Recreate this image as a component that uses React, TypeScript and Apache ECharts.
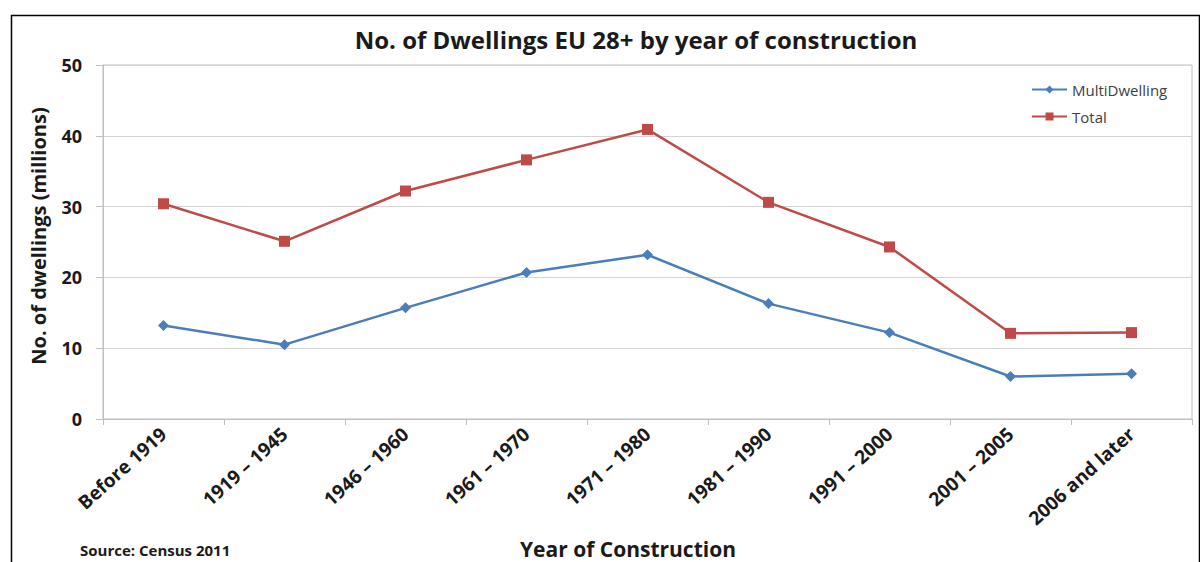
import React, { useEffect, useRef } from "react";
import * as echarts from "echarts";

const categories = [
  "Before 1919",
  "1919 – 1945",
  "1946 – 1960",
  "1961 – 1970",
  "1971 – 1980",
  "1981 – 1990",
  "1991 – 2000",
  "2001 – 2005",
  "2006 and later",
];
const multiDwelling = [13.2, 10.5, 15.7, 20.7, 23.2, 16.3, 12.2, 6.0, 6.4];
const total = [30.4, 25.1, 32.2, 36.6, 40.9, 30.6, 24.3, 12.1, 12.2];
const yTicks = { min: 0, max: 50, interval: 10 };

const FONT = "'Open Sans', Lato, sans-serif";

export default function App() {
  const ref = useRef<HTMLDivElement>(null);
  useEffect(() => {
    document.body.style.margin = "0";
    const chart = echarts.init(ref.current!, null, { renderer: "svg" });
    chart.setOption({
      animation: false,
      backgroundColor: "#ffffff",
      textStyle: { fontFamily: FONT },
      grid: {
        left: 103,
        right: 8,
        top: 65,
        bottom: 143,
        show: true,
        borderColor: "#bfbfbf",
        borderWidth: 1,
      },
      legend: {
        data: ["MultiDwelling", "Total"],
        orient: "vertical",
        left: 1026,
        top: 77,
        itemGap: 12,
        itemWidth: 35,
        itemHeight: 10,
        textStyle: { fontSize: 15, color: "#404040", fontFamily: FONT },
      },
      xAxis: {
        type: "category",
        data: categories,
        boundaryGap: true,
        axisLine: { show: true, lineStyle: { color: "#bfbfbf", width: 1 } },
        axisTick: { show: true, length: 6, lineStyle: { color: "#bfbfbf" } },
        axisLabel: {
          rotate: 42,
          interval: 0,
          fontSize: 19,
          fontWeight: "bold",
          color: "#1a1a1a",
          margin: 12,
          fontFamily: FONT,
        },
      },
      yAxis: {
        type: "value",
        min: yTicks.min,
        max: yTicks.max,
        interval: yTicks.interval,
        axisLine: { show: true, lineStyle: { color: "#bfbfbf", width: 1 } },
        axisTick: { show: true, length: 7, lineStyle: { color: "#bfbfbf" } },
        axisLabel: {
          fontSize: 18,
          fontWeight: "bold",
          color: "#1a1a1a",
          margin: 21,
          fontFamily: FONT,
        },
        splitLine: { lineStyle: { color: "#d4d4d4", width: 1 } },
      },
      series: [
        {
          name: "MultiDwelling",
          type: "line",
          data: multiDwelling,
          symbol: "diamond",
          symbolSize: 11,
          itemStyle: { color: "#4a7ebb" },
          lineStyle: { color: "#4a7ebb", width: 2.5 },
        },
        {
          name: "Total",
          type: "line",
          data: total,
          symbol: "rect",
          symbolSize: 11,
          itemStyle: { color: "#be4b48" },
          lineStyle: { color: "#be4b48", width: 2.5 },
        },
      ],
      graphic: [
        {
          type: "rect",
          left: 9,
          top: 13,
          shape: { x: 0, y: 0, width: 1188, height: 600 },
          style: { fill: "none", stroke: "#000", lineWidth: 1.5 },
          silent: true,
          z: 100,
        },
        {
          type: "text",
          x: 636,
          y: 39,
          style: {
            text: "No. of Dwellings EU 28+ by year of construction",
            font: `bold 24px ${FONT}`,
            fill: "#1a1a1a",
            align: "center",
            verticalAlign: "middle",
          },
        },
        {
          type: "text",
          x: 38,
          y: 236,
          rotation: Math.PI / 2,
          style: {
            text: "No. of dwellings (millions)",
            font: `bold 20px ${FONT}`,
            fill: "#1a1a1a",
            align: "center",
            verticalAlign: "middle",
          },
        },
        {
          type: "text",
          x: 628,
          y: 549,
          style: {
            text: "Year of Construction",
            font: `bold 21px ${FONT}`,
            fill: "#1a1a1a",
            align: "center",
            verticalAlign: "middle",
          },
        },
        {
          type: "text",
          x: 80,
          y: 550,
          style: {
            text: "Source: Census 2011",
            font: `bold 15px ${FONT}`,
            fill: "#1a1a1a",
            align: "left",
            verticalAlign: "middle",
          },
        },
      ],
    });
    return () => chart.dispose();
  }, []);
  return (
    <div
      ref={ref}
      style={{ position: "absolute", left: 0, top: 0, width: 1200, height: 562 }}
    />
  );
}
